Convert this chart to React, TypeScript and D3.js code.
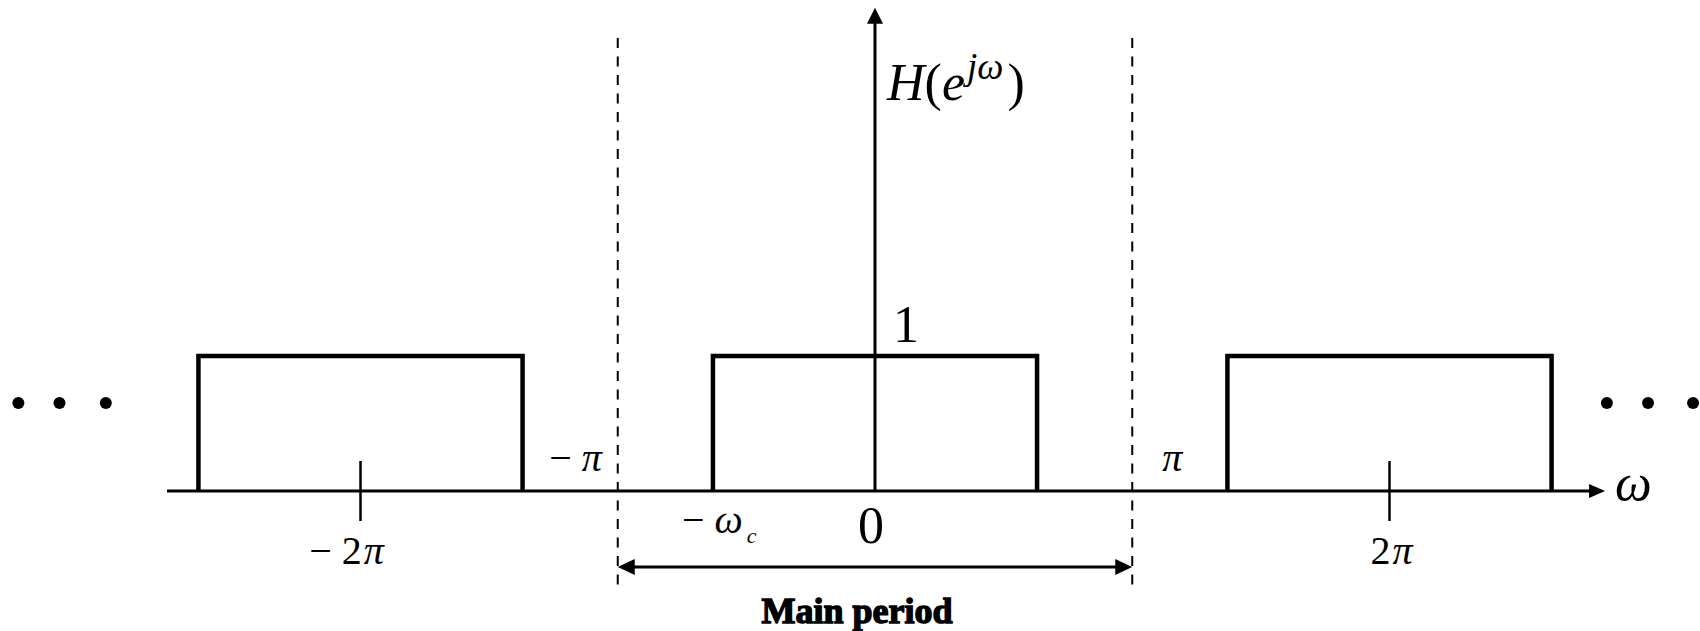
import React from "react";
import * as d3 from "d3";

// Periodic ideal low-pass response H(e^{jω}); frequencies are in units of π.
const passbandCentres = [-2, 0, 2];
const cutoff = 0.63; // ωc / π
const passbandGain = 1;
const periodTicks = [-2, 2];
const periodTickLabels = ["− 2", "2"];
const mainPeriodEdges = [-1, 1];
const mainPeriodLabels = ["− ", ""];
const leftEllipsis = [-3.33, -3.17, -2.99];
const rightEllipsis = [2.845, 3.005, 3.18];

const W = 1700;
const H = 631;
const FONT = "'Liberation Serif', 'Times New Roman', Times, serif";

export default function App() {
  const x = d3.scaleLinear().domain([-2, 2]).range([360.5, 1389.5]);
  const y = d3.scaleLinear().domain([0, 1]).range([491, 356]);

  const x0 = x(0);
  const y0 = y(0);

  // horizontal ω axis
  const axisStart = x(-2.752);
  const axisTip = x(2.838);
  // vertical axis
  const vTip = y(3.58);
  // dashed main-period boundaries
  const dashTop = y(3.356);
  const dashBottom = y(-0.741);
  const spanY = y(-0.563);
  const dotY = y(0.652);

  const passbandPath = (c: number) => {
    const p = d3.path();
    p.moveTo(x(c - cutoff), y(0));
    p.lineTo(x(c - cutoff), y(passbandGain));
    p.lineTo(x(c + cutoff), y(passbandGain));
    p.lineTo(x(c + cutoff), y(0));
    return p.toString();
  };

  const xl = x(mainPeriodEdges[0]);
  const xr = x(mainPeriodEdges[1]);

  const dots = [...leftEllipsis, ...rightEllipsis];

  return (
    <svg
      width={W}
      height={H}
      viewBox={`0 0 ${W} ${H}`}
      style={{ position: "absolute", left: 0, top: 0, background: "#fff" }}
      fontFamily={FONT}
    >
      <rect x={0} y={0} width={W} height={H} fill="#fff" />

      {/* main period boundaries */}
      {mainPeriodEdges.map((e) => (
        <line
          key={"dash" + e}
          x1={x(e)}
          x2={x(e)}
          y1={dashTop}
          y2={dashBottom}
          stroke="#000"
          strokeWidth={2}
          strokeDasharray="10 8.5"
        />
      ))}

      {/* ω axis */}
      <line x1={axisStart} x2={axisTip - 12} y1={y0} y2={y0} stroke="#000" strokeWidth={3} />
      <path
        d={`M${axisTip},${y0} L${axisTip - 16},${y0 - 7} L${axisTip - 16},${y0 + 7} Z`}
        fill="#000"
      />

      {/* vertical axis */}
      <line x1={x0} x2={x0} y1={y0} y2={vTip + 12} stroke="#000" strokeWidth={3} />
      <path d={`M${x0},${vTip} L${x0 - 8},${vTip + 16} L${x0 + 8},${vTip + 16} Z`} fill="#000" />

      {/* passband copies */}
      {passbandCentres.map((c) => (
        <path
          key={"pb" + c}
          d={passbandPath(c)}
          fill="none"
          stroke="#000"
          strokeWidth={4.5}
          strokeLinejoin="miter"
        />
      ))}

      {/* ±2π ticks */}
      {periodTicks.map((t, i) => (
        <g key={"tick" + t}>
          <line x1={x(t)} x2={x(t)} y1={y0 - 30} y2={y0 + 30} stroke="#000" strokeWidth={2.5} />
          <text
            x={x(t) + (t < 0 ? -14 : 2)}
            y={564}
            fontSize={40}
            textAnchor="middle"
            fill="#000"
            style={{ whiteSpace: "pre" }}
          >
            {periodTickLabels[i]}
            <tspan fontStyle="italic" dx={2}>π</tspan>
          </text>
        </g>
      ))}

      {/* ±π labels */}
      <text
        x={xl - 16}
        y={471}
        fontSize={40}
        textAnchor="end"
        fill="#000"
        style={{ whiteSpace: "pre" }}
      >
        {mainPeriodLabels[0]}
        <tspan fontStyle="italic">π</tspan>
      </text>
      <text x={xr + 30} y={471} fontSize={40} textAnchor="start" fill="#000">
        {mainPeriodLabels[1]}
        <tspan fontStyle="italic">π</tspan>
      </text>

      {/* −ωc */}
      <text x={x(-cutoff) - 31} y={533} fontSize={40} fill="#000" style={{ whiteSpace: "pre" }}>
        {"− "}
        <tspan fontStyle="italic">ω</tspan>
        <tspan fontStyle="italic" fontSize={22} dy={10} dx={4}>
          c
        </tspan>
      </text>

      {/* origin and unit gain */}
      <text x={x0 - 4} y={543} fontSize={52} textAnchor="middle" fill="#000">
        0
      </text>
      <text x={x0 + 18} y={342} fontSize={52} fill="#000">
        {passbandGain}
      </text>

      {/* H(e^{jω}) */}
      <text x={x0 + 12} y={100} fontSize={52} fill="#000">
        <tspan fontStyle="italic">H</tspan>
        <tspan>(</tspan>
        <tspan fontStyle="italic">e</tspan>
        <tspan fontStyle="italic" fontSize={37} dy={-21} dx={2}>
          jω
        </tspan>
        <tspan dy={21} dx={4}>
          )
        </tspan>
      </text>

      {/* ω axis label */}
      <text x={axisTip + 10} y={500} fontSize={52} fontStyle="italic" fill="#000">
        ω
      </text>

      {/* ellipsis on both sides */}
      {dots.map((d) => (
        <circle key={"dot" + d} cx={x(d)} cy={dotY} r={6} fill="#000" />
      ))}

      {/* main period span */}
      <line x1={xl + 14} x2={xr - 14} y1={spanY} y2={spanY} stroke="#000" strokeWidth={3} />
      <path d={`M${xl},${spanY} L${xl + 17},${spanY - 8} L${xl + 17},${spanY + 8} Z`} fill="#000" />
      <path d={`M${xr},${spanY} L${xr - 17},${spanY - 8} L${xr - 17},${spanY + 8} Z`} fill="#000" />
      <text
        x={x0 - 18}
        y={623}
        fontSize={36}
        fontWeight="bold"
        textAnchor="middle"
        textLength={191}
        lengthAdjust="spacingAndGlyphs"
        stroke="#000"
        strokeWidth={1.4}
        fill="#000"
      >
        Main period
      </text>
    </svg>
  );
}
